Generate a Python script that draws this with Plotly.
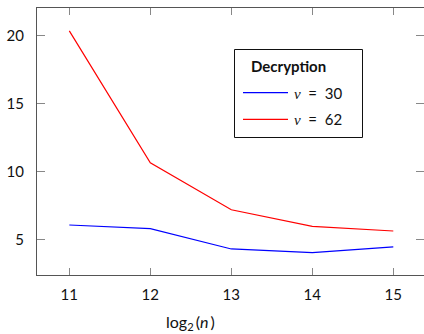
import plotly.graph_objects as go

log2_n = [11, 12, 13, 14, 15]
nu30 = [6.10, 5.83, 4.34, 4.07, 4.49]
nu62 = [20.34, 10.66, 7.22, 6.00, 5.66]
x_ticks = [11, 12, 13, 14, 15]
y_ticks = [5, 10, 15, 20]
series_names = ["30", "62"]
series_colors = ["#0000ff", "#ff0000"]
legend_title = "Decryption"

FONT = "Lato"
AX = "#555555"
W, H = 424, 334
ML, MT, MB = 37, 8, 59
PW, PH = W - ML, H - MT - MB


def px(x):
    return (x - ML) / PW


def py(y):
    return (H - MB - y) / PH


fig = go.Figure()
for yv, nm, col in zip([nu30, nu62], series_names, series_colors):
    fig.add_trace(go.Scatter(x=log2_n, y=yv, mode="lines", name="ν = " + nm,
                             line=dict(color=col, width=1.2), showlegend=False))

fig.update_layout(
    width=W, height=H,
    margin=dict(l=ML, r=0, t=MT, b=MB),
    plot_bgcolor="white", paper_bgcolor="white",
    font=dict(family=FONT, size=15, color="#111111"),
    xaxis=dict(
        range=[10.601, 15.379], tickvals=x_ticks, ticktext=[str(v) for v in x_ticks],
        showgrid=False, zeroline=False, showline=True, linecolor=AX, linewidth=1.2,
        mirror="ticks", ticks="inside", ticklen=7, tickcolor="#888888", tickwidth=1,
        ticklabelstandoff=6,
    ),
    yaxis=dict(
        range=[2.43, 22.02], tickvals=y_ticks, ticktext=[str(v) for v in y_ticks],
        showgrid=False, zeroline=False, showline=True, linecolor=AX, linewidth=1.2,
        mirror=False, ticks="inside", ticklen=8, tickcolor="#888888", tickwidth=1,
        ticklabelstandoff=9,
    ),
    yaxis2=dict(
        range=[2.43, 22.02], tickvals=y_ticks, overlaying="y", side="right",
        showticklabels=False, showgrid=False, zeroline=False, showline=False,
        ticks="inside", ticklen=8, tickcolor="#888888", tickwidth=1,
    ),
)
# invisible trace to activate right-side ticks
fig.add_trace(go.Scatter(x=[log2_n[0]], y=[nu30[0]], yaxis="y2", mode="lines",
                         showlegend=False, hoverinfo="skip", line=dict(width=0)))

# legend box
fig.add_shape(type="rect", xref="paper", yref="paper",
              x0=px(234.5), x1=px(362.5), y0=py(137.5), y1=py(49.5),
              line=dict(color="#111111", width=1), fillcolor="white", layer="above")
fig.add_annotation(text="<b>" + legend_title + "</b>", xref="paper", yref="paper",
                   x=px(249), y=py(66), xanchor="left", yanchor="middle",
                   showarrow=False, font=dict(size=15, family=FONT))
for i, (nm, col) in enumerate(zip(series_names, series_colors)):
    yy = 92.7 + i * 26.6
    fig.add_shape(type="line", xref="paper", yref="paper",
                  x0=px(243), x1=px(288), y0=py(yy), y1=py(yy),
                  line=dict(color=col, width=1.2), layer="above")
    fig.add_annotation(
        text="<span style='font-family:Liberation Serif'><i>ν</i></span>  =  " + nm,
        xref="paper", yref="paper", x=px(292), y=py(yy), xanchor="left",
        yanchor="middle", showarrow=False, font=dict(size=15, family=FONT))

fig.add_annotation(text="log<sub>2</sub>\u2009(<i>n</i>\u2009)", xref="paper", yref="paper",
                   x=px(190), y=py(322.5), showarrow=False,
                   xanchor="center", yanchor="middle", font=dict(size=16, family=FONT))

fig.write_html("out.html", post_script="document.body.style.margin='0';",
               config={"displayModeBar": False})
